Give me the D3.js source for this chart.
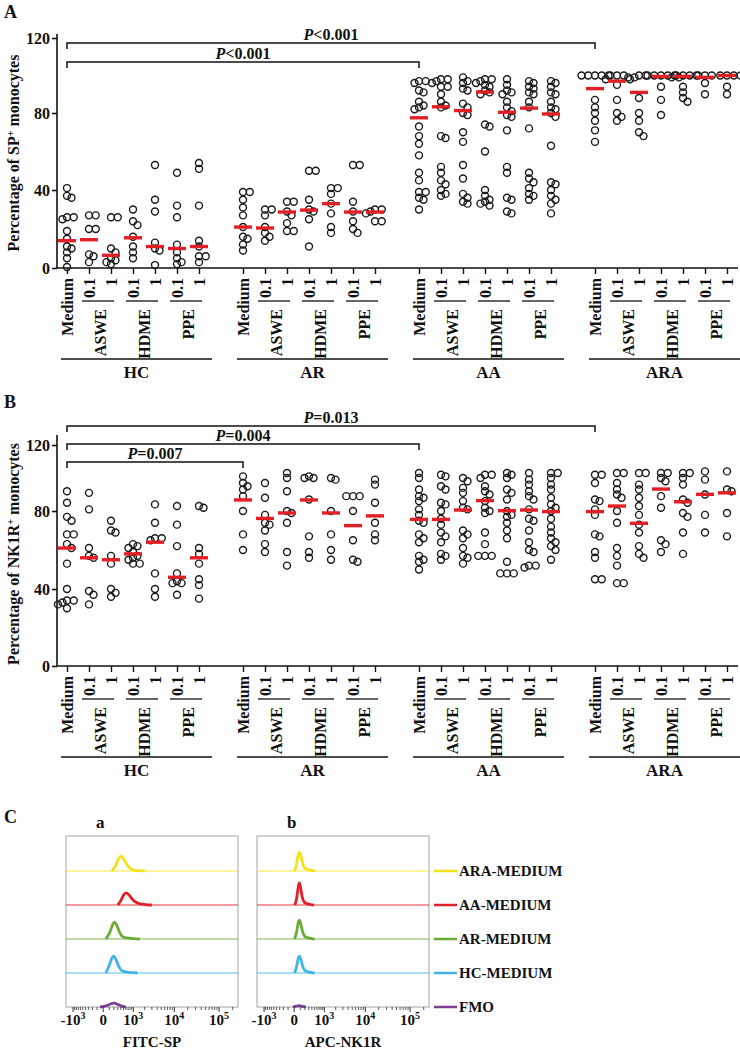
<!DOCTYPE html>
<html>
<head>
<meta charset="utf-8">
<script src="https://cdn.jsdelivr.net/npm/d3@7"></script>
<style>
  body { margin: 0; background: #fff; }
  text { font-family: "Liberation Serif", "Times New Roman", serif; font-weight: bold; fill: #111; }
</style>
</head>
<body>
<svg width="740" height="1054"></svg>
<script>
let width = 740;
let height = 1054;

// ---- categories ----
const groups = ['HC', 'AR', 'AA', 'ARA'];
const doses = ['Medium', '0.1', '1', '0.1', '1', '0.1', '1'];
const treatments = ['ASWE', 'HDME', 'PPE'];
const yTicks = [0, 40, 80, 120];

// ---- panel A: percentage of SP+ monocytes (Medium, ASWE 0.1/1, HDME 0.1/1, PPE 0.1/1) ----
const spHC = [
  [41, 37, 36, 26, 26, 25, 19, 15, 11, 10, 8, 5, 0.5],
  [27, 27, 20, 20, 7, 6, 3],
  [26, 26, 10, 8, 5, 4, 3, 2],
  [30, 24, 22, 16, 11, 8, 5],
  [53, 35, 29, 13, 10, 9, 1.5],
  [49, 32, 26, 12, 8, 5, 3, 2],
  [54, 51, 32, 14, 11, 6, 6, 3]
];
const spAR = [
  [39, 39, 35, 31, 27, 21, 16, 15, 12, 9],
  [30, 30, 27, 21, 18, 16, 14],
  [34, 34, 29, 27, 23, 19, 19],
  [50, 50, 35, 30, 29, 25, 11],
  [41, 41, 38, 33, 28, 21, 18],
  [53, 53, 34, 29, 24, 20, 18],
  [30, 30, 29, 28, 24, 24]
];
const spAA = [
  [97, 97, 96, 92, 91, 86, 84, 83, 82, 73, 68, 64, 58, 49, 45, 39, 39, 36, 35, 30],
  [98, 98, 97, 96, 94, 94, 90, 86, 84, 83, 68, 67, 52, 49, 45, 43, 40, 38, 37],
  [99, 97, 96, 93, 92, 85, 83, 80, 79, 70, 65, 53, 46, 38, 36, 34, 33],
  [98, 98, 97, 96, 95, 94, 92, 91, 90, 74, 73, 60, 40, 37, 35, 34, 33, 32],
  [98, 95, 92, 91, 90, 86, 83, 81, 79, 78, 71, 52, 49, 36, 35, 29, 28],
  [97, 96, 94, 93, 91, 90, 86, 83, 72, 49, 46, 44, 41, 38, 37, 35],
  [97, 96, 94, 91, 90, 86, 83, 82, 80, 78, 63, 44, 43, 40, 37, 35, 33, 28]
];
const spARA = [
  [100, 100, 100, 100, 100, 87, 83, 80, 76, 71, 65],
  [100, 100, 100, 99, 98, 95, 87, 80, 78, 76],
  [100, 100, 99, 98, 88, 80, 76, 70, 68],
  [100, 100, 100, 100, 100, 99, 94, 87, 79],
  [100, 100, 100, 100, 99, 94, 91, 88, 86],
  [100, 100, 100, 96, 90],
  [100, 100, 100, 100, 94, 90]
];
const spMedians = [
  [14, 14.5, 6.5, 15.5, 11, 10, 11],
  [21, 20.5, 28.7, 29.7, 33, 28.7, 28.7],
  [77.5, 83.3, 81.3, 91.2, 80.4, 82.6, 79.5],
  [93, 97, 91, 99.5, 99.5, 99, 100]
];

// ---- panel B: percentage of NK1R+ monocytes ----
const nkHC = [
  [92, 85, 77, 75, 68, 68, 63, 61, 53, 40, 34, 34, 33, 32, 30],
  [91, 81, 61, 57, 56, 39, 37, 32],
  [75, 70, 69, 57, 53, 40, 38, 36],
  [63, 62, 61, 59, 57, 56, 55, 53, 53],
  [84, 74, 66, 66, 65, 48, 40, 36],
  [83, 73, 62, 48, 44, 43, 43, 37],
  [83, 82, 61, 58, 53, 45, 42, 35]
];
const nkAR = [
  [101, 97, 95, 93, 89, 80, 68, 60],
  [97, 88, 78, 74, 73, 70, 63, 59],
  [103, 100, 92, 80, 79, 74, 59, 52],
  [101, 100, 100, 87, 67, 59, 56],
  [100, 99, 80, 68, 60, 55],
  [89, 89, 89, 80, 65, 55, 54],
  [99, 96, 85, 74, 68, 65]
];
const nkAA = [
  [103, 100, 93, 89, 88, 86, 81, 78, 75, 74, 68, 66, 64, 57, 55, 54, 50],
  [102, 101, 95, 93, 85, 84, 80, 76, 73, 69, 67, 64, 58, 57, 55],
  [100, 98, 94, 91, 86, 82, 81, 70, 68, 66, 61, 57, 56, 53],
  [102, 102, 100, 95, 92, 90, 86, 82, 80, 79, 69, 63, 57, 57, 57],
  [103, 102, 100, 93, 91, 87, 80, 78, 77, 74, 70, 66, 54, 48, 48, 48],
  [103, 99, 96, 92, 89, 87, 81, 76, 75, 70, 64, 60, 59, 52, 51, 52],
  [103, 103, 100, 96, 93, 88, 84, 82, 80, 76, 72, 69, 66, 64, 62, 60, 55]
];
const nkARA = [
  [102, 102, 97, 87, 86, 81, 78, 68, 67, 59, 56, 45, 45],
  [103, 103, 97, 93, 90, 88, 80, 74, 61, 57, 52, 43, 43],
  [103, 103, 96, 93, 88, 83, 78, 73, 69, 62, 58, 56],
  [103, 103, 100, 98, 89, 82, 65, 63, 59],
  [103, 103, 100, 96, 87, 85, 79, 77, 69, 58],
  [104, 99, 90, 78, 69],
  [104, 93, 92, 79, 67]
];
const nkMedians = [
  [61, 56, 55, 58, 64, 46, 56],
  [86.7, 76.2, 79, 86.7, 79, 72.5, 77.5],
  [75.7, 75.7, 80.6, 86.3, 80.2, 80.6, 79.7],
  [79.7, 83, 73.7, 93.3, 85.6, 90.1, 91]
];

// comparisons: always from HC Medium to the Medium of another group
const spBrackets = [
  {to: 'ARA', op: '<', p: '0.001'},
  {to: 'AA', op: '<', p: '0.001'}
];
const nkBrackets = [
  {to: 'ARA', op: '=', p: '0.013'},
  {to: 'AA', op: '=', p: '0.004'},
  {to: 'AR', op: '=', p: '0.007'}
];

// ---- panel C: flow cytometry histograms [fluorescence, relative count] ----
const fcSamples = ['ARA-MEDIUM', 'AA-MEDIUM', 'AR-MEDIUM', 'HC-MEDIUM', 'FMO'];
const fcColors = ['#f3e21a', '#e0202a', '#6cab38', '#40b4e5', '#7d3f96'];
const fcTicks = [-1000, 0, 1000, 10000, 100000];
const fitcHist = [
  [[150, 0], [230, 20], [320, 55], [412, 68], [520, 52], [650, 28], [850, 10], [1100, 3], [1600, 1], [2000, 0]],
  [[300, 0], [400, 20], [500, 45], [610, 55], [750, 45], [950, 25], [1250, 10], [1700, 4], [2300, 1], [3000, 0]],
  [[40, 0], [110, 30], [170, 65], [214, 77], [280, 60], [360, 30], [450, 12], [650, 5], [1000, 2], [1500, 0]],
  [[40, 0], [100, 35], [160, 70], [196, 77], [260, 58], [340, 28], [440, 10], [650, 4], [1000, 1.5], [1300, 0]],
  [[-50, 0], [60, 6], [150, 16], [210, 18], [300, 12], [420, 4], [600, 0]]
];
const apcHist = [
  [[0, 0], [30, 25], [60, 70], [85, 86], [115, 65], [160, 25], [220, 10], [320, 5], [420, 2], [500, 0]],
  [[10, 0], [40, 35], [65, 85], [82, 100], [105, 80], [140, 35], [190, 12], [280, 5], [400, 1], [480, 0]],
  [[5, 0], [35, 30], [62, 72], [85, 86], [115, 62], [160, 25], [220, 9], [320, 4], [430, 1], [500, 0]],
  [[5, 0], [35, 28], [62, 65], [85, 77], [115, 58], [160, 24], [220, 9], [320, 4], [430, 1], [500, 0]],
  [[-20, 0], [30, 4], [80, 6], [140, 3], [220, 0]]
];

const svg = d3.select('svg');
const axisX = 57;
const x = d3.scaleLinear().domain([0, 30]).range([67, 727]);
const slot = (g, i) => g * 8 + i;

function swarm(vals, y, cx) {
  const placed = [];
  return vals.slice().sort((a, b) => b - a).map(v => {
    const cy = y(v);
    let off = 0;
    for (let k = 0; k < 30; k++) {
      const c = k === 0 ? 0 : (k % 2 ? 1 : -1) * Math.ceil(k / 2) * 2.25;
      if (placed.every(p => Math.hypot(p[0] - (cx + c), p[1] - cy) >= 4.6)) { off = c; break; }
    }
    placed.push([cx + off, cy]);
    return [cx + off, cy];
  });
}

function drawPanel(cfg) {
  const y = cfg.y;
  const base = y(0);
  const g = svg.append('g');

  g.append('text').attr('x', 4).attr('y', cfg.letterY)
    .style('font-size', '18px').text(cfg.letter);

  // y title
  const t = g.append('text')
    .attr('transform', `translate(19,${cfg.titleY}) rotate(-90)`)
    .attr('text-anchor', 'middle')
    .style('font-size', '16px');
  t.append('tspan').text(cfg.title[0]);
  t.append('tspan').attr('dy', -5).style('font-size', '10px').text('+');
  t.append('tspan').attr('dy', 5).text(' monocytes');

  // y axis
  g.append('line').attr('x1', axisX).attr('x2', axisX)
    .attr('y1', base).attr('y2', cfg.axisTop).attr('stroke', '#111').attr('stroke-width', 1.6);
  const ya = g.append('g').attr('transform', `translate(${axisX},0)`)
    .call(d3.axisLeft(y).tickValues(yTicks).tickSize(5).tickPadding(2));
  ya.select('.domain').remove();
  ya.selectAll('line').attr('stroke', '#111').attr('stroke-width', 1.6);
  ya.selectAll('text').style('font-size', '16px').attr('font-family', null);

  // x axis
  g.append('line').attr('x1', axisX).attr('x2', 738)
    .attr('y1', base).attr('y2', base).attr('stroke', '#111').attr('stroke-width', 1.6);
  const slots = d3.range(4).flatMap(gi => d3.range(7).map(i => slot(gi, i)));
  const xa = g.append('g').attr('transform', `translate(0,${base})`)
    .call(d3.axisBottom(x).tickValues(slots).tickSize(6).tickFormat(''));
  xa.select('.domain').remove();
  xa.selectAll('line').attr('stroke', '#111').attr('stroke-width', 1.4);

  // category labels
  groups.forEach((name, gi) => {
    doses.forEach((d, i) => {
      g.append('text')
        .attr('transform', `translate(${x(slot(gi, i))},${base + 10}) rotate(-90)`)
        .attr('text-anchor', 'end').attr('dy', '0.35em')
        .style('font-size', '16px').text(d);
    });
    treatments.forEach((tr, k) => {
      const x1 = x(slot(gi, 2 * k + 1)), x2 = x(slot(gi, 2 * k + 2));
      g.append('line').attr('x1', x1 - 7).attr('x2', x2 + 3)
        .attr('y1', base + 33).attr('y2', base + 33).attr('stroke', '#111').attr('stroke-width', 1.3);
      g.append('text')
        .attr('transform', `translate(${(x1 + x2) / 2},${base + 41}) rotate(-90)`)
        .attr('text-anchor', 'end').attr('dy', '0.35em')
        .style('font-size', '16px').text(tr);
    });
    const gx1 = x(slot(gi, 0)) - 6, gx2 = x(slot(gi, 6)) + 13;
    g.append('line').attr('x1', gx1).attr('x2', gx2)
      .attr('y1', base + 91).attr('y2', base + 91).attr('stroke', '#111').attr('stroke-width', 1.5);
    g.append('text').attr('x', (gx1 + gx2) / 2).attr('y', base + 110)
      .attr('text-anchor', 'middle').style('font-size', '17px').text(name);
  });

  // points
  cfg.values.forEach((grp, gi) => {
    grp.forEach((vals, i) => {
      const cx = x(slot(gi, i));
      g.append('g').selectAll('circle')
        .data(swarm(vals, y, cx))
        .enter()
          .append('circle')
          .attr('cx', d => d[0])
          .attr('cy', d => d[1])
          .attr('r', 3.5)
          .attr('fill', 'none')
          .attr('stroke', '#1a1a1a')
          .attr('stroke-width', 1.4);
    });
  });

  // medians
  cfg.medians.forEach((meds, gi) => {
    g.append('g').selectAll('line')
      .data(meds)
      .enter()
        .append('line')
        .attr('x1', (d, i) => x(slot(gi, i)) - 9)
        .attr('x2', (d, i) => x(slot(gi, i)) + 9)
        .attr('y1', d => y(d))
        .attr('y2', d => y(d))
        .attr('stroke', '#e31e24')
        .attr('stroke-width', 3.4);
  });

  // significance brackets
  cfg.brackets.forEach((b, k) => {
    const by = cfg.bracketTop + k * cfg.bracketStep;
    const x1 = x(slot(0, 0)), x2 = x(slot(groups.indexOf(b.to), 0));
    g.append('path')
      .attr('d', `M${x1},${by + 6}V${by}H${x2}V${by + 6}`)
      .attr('fill', 'none').attr('stroke', '#111').attr('stroke-width', 1.5);
    const lt = g.append('text').attr('x', (x1 + x2) / 2).attr('y', by - 3)
      .attr('text-anchor', 'middle').style('font-size', '16px');
    lt.append('tspan').style('font-style', 'italic').text('P');
    lt.append('tspan').text(b.op + b.p);
  });
}

drawPanel({
  letter: 'A', letterY: 18,
  title: ['Percentage of SP'], titleY: 153,
  y: d3.scaleLinear().domain(yTicks).range([268, 190, 113, 38]),
  axisTop: 34,
  values: [spHC, spAR, spAA, spARA], medians: spMedians,
  brackets: spBrackets, bracketTop: 43, bracketStep: 19
});

drawPanel({
  letter: 'B', letterY: 408,
  title: ['Percentage of NK1R'], titleY: 554,
  y: d3.scaleLinear().domain(yTicks).range([666, 589, 511, 445]),
  axisTop: 435,
  values: [nkHC, nkAR, nkAA, nkARA], medians: nkMedians,
  brackets: nkBrackets, bracketTop: 426, bracketStep: 18
});

// ---- panel C ----
svg.append('text').attr('x', 4).attr('y', 823).style('font-size', '18px').text('C');

const rowY = d3.scalePoint().domain(fcSamples).range([871, 1007]);
const hY = d3.scaleLinear().domain([0, 100]).range([0, 22]);
const minorTicks = [].concat(
  d3.range(-900, 0, 100), d3.range(100, 1000, 100),
  d3.range(2000, 10000, 1000), d3.range(20000, 100000, 10000), [200000]
);

function drawHist(cfg) {
  const fx = d3.scaleSymlog().constant(275).domain([-1550, 262144]).range([cfg.x0, cfg.x0 + 172]);
  const g = svg.append('g');
  const top = 836, bottom = 1007;

  g.append('text').attr('x', cfg.x0 + 30).attr('y', 828).style('font-size', '17px').text(cfg.letter);

  g.append('rect').attr('x', cfg.x0).attr('y', top)
    .attr('width', 172).attr('height', bottom - top)
    .attr('fill', 'none').attr('stroke', '#b3b3b3').attr('stroke-width', 1.2);

  fcSamples.forEach((s, i) => {
    const by = rowY(s);
    if (s !== 'FMO') {
      g.append('line').attr('x1', cfg.x0).attr('x2', cfg.x0 + 172)
        .attr('y1', by).attr('y2', by)
        .attr('stroke', fcColors[i]).attr('stroke-opacity', 0.6).attr('stroke-width', 1.3);
    }
    g.append('path')
      .datum(cfg.hist[i])
      .attr('fill', 'none')
      .attr('stroke', fcColors[i])
      .attr('stroke-width', 2.8)
      .attr('stroke-linejoin', 'round')
      .attr('d', d3.line().x(d => fx(d[0])).y(d => by - hY(d[1])).curve(d3.curveMonotoneX));
  });

  // axis ticks
  g.append('g').selectAll('line').data(minorTicks).enter()
    .append('line')
    .attr('x1', d => fx(d)).attr('x2', d => fx(d))
    .attr('y1', bottom).attr('y2', bottom + 3)
    .attr('stroke', '#333').attr('stroke-width', 0.8);
  g.append('g').selectAll('line').data(fcTicks).enter()
    .append('line')
    .attr('x1', d => fx(d)).attr('x2', d => fx(d))
    .attr('y1', bottom).attr('y2', bottom + 5)
    .attr('stroke', '#333').attr('stroke-width', 1);

  fcTicks.forEach(v => {
    const lt = g.append('text').attr('x', fx(v)).attr('y', 1025)
      .attr('text-anchor', 'middle').style('font-size', '15px');
    if (v === 0) { lt.text('0'); return; }
    const e = Math.round(Math.log10(Math.abs(v)));
    lt.append('tspan').text((v < 0 ? '-' : '') + '10');
    lt.append('tspan').attr('dy', -6).style('font-size', '10px').text(e);
  });

  g.append('text').attr('x', cfg.x0 + 86).attr('y', 1047)
    .attr('text-anchor', 'middle').style('font-size', '15px').text(cfg.title);
}

drawHist({letter: 'a', x0: 66, hist: fitcHist, title: 'FITC-SP'});
drawHist({letter: 'b', x0: 257, hist: apcHist, title: 'APC-NK1R'});

// legend
const legend = svg.append('g');
fcSamples.forEach((s, i) => {
  legend.append('line').attr('x1', 434).attr('x2', 457)
    .attr('y1', rowY(s)).attr('y2', rowY(s))
    .attr('stroke', fcColors[i]).attr('stroke-width', 2.5);
  legend.append('text').attr('x', 459).attr('y', rowY(s)).attr('dy', '0.35em')
    .style('font-size', '15px').text(s);
});
</script>
</body>
</html>
